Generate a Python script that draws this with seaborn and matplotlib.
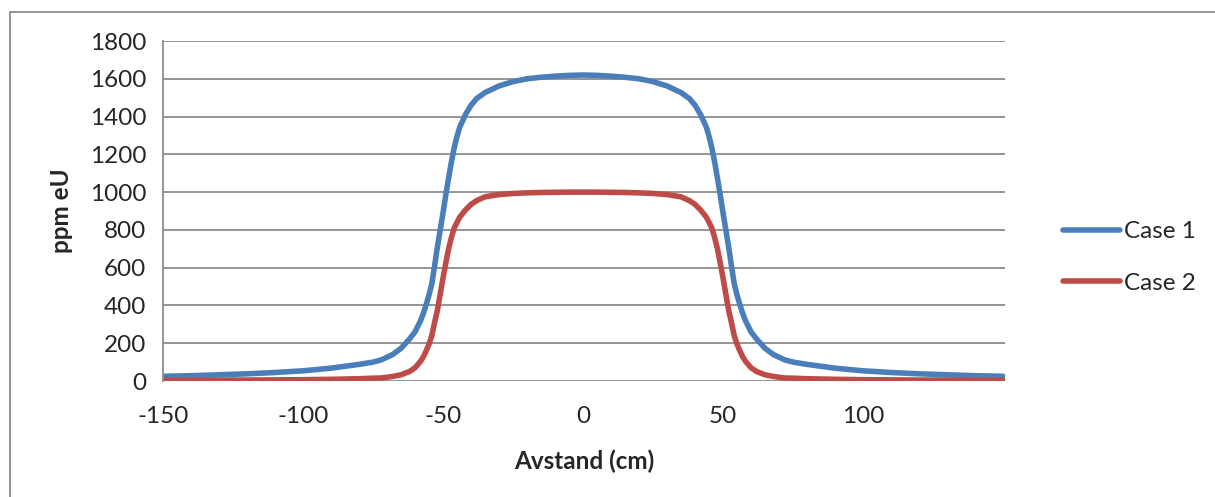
import numpy as np
import pandas as pd
import matplotlib
matplotlib.use("Agg")
import matplotlib.pyplot as plt
import seaborn as sns
from matplotlib.patches import Rectangle

# Data (left half; the profile is symmetric about 0)
x_left = [-150, -140, -130, -120, -110, -100, -90, -80, -75, -72, -68, -65, -62, -60,
          -58, -57, -56, -55, -54, -53, -52, -51, -50, -49, -48, -47, -46, -45, -44,
          -42, -40, -38, -35, -30, -25, -20, -15, -10, -5, 0]
case1_left = [25, 28, 33, 38, 45, 54, 68, 88, 100, 112, 140, 173, 222, 260,
              320, 359, 405, 455, 515, 610, 710, 800, 890, 985, 1075, 1160, 1235, 1295, 1345,
              1410, 1460, 1495, 1527, 1562, 1585, 1600, 1608, 1614, 1618, 1620]
case2_left = [4, 4, 5, 5, 6, 7, 9, 12, 15, 16, 24, 33, 50, 70,
              105, 129, 160, 195, 240, 310, 375, 460, 545, 625, 700, 760, 810, 840, 868,
              905, 935, 955, 975, 987, 993, 996, 998, 999, 1000, 1000]

x_vals = x_left + [-v for v in reversed(x_left[:-1])]
case1 = case1_left + list(reversed(case1_left[:-1]))
case2 = case2_left + list(reversed(case2_left[:-1]))

series_names = ["Case 1", "Case 2"]
colors = ["#4A7EBB", "#BE4B48"]
y_ticks = list(range(0, 1801, 200))
x_ticks = [-150, -100, -50, 0, 50, 100]

df = pd.concat([
    pd.DataFrame({"x": x_vals, "y": case1, "serie": series_names[0]}),
    pd.DataFrame({"x": x_vals, "y": case2, "serie": series_names[1]}),
])

sns.set_style("white")
plt.rcParams["font.family"] = ["Lato", "DejaVu Sans"]

FS = 17.5
fig = plt.figure(figsize=(12.15, 4.97), dpi=100)
ax = fig.add_axes([163/1215, 1-381/497, (1005-163)/1215, (381-41)/497])

sns.lineplot(data=df, x="x", y="y", hue="serie", palette=colors, linewidth=4.0,
             ax=ax, legend=True, sort=False)
for line in ax.get_lines():
    line.set_solid_joinstyle("round")
    line.set_solid_capstyle("round")

ax.set_xlim(-150, 150.7)
ax.set_ylim(0, 1800)
ax.set_yticks(y_ticks)
ax.set_xticks(x_ticks)
ax.set_xticklabels([str(t) for t in x_ticks], fontsize=FS)
ax.set_yticklabels([str(t) for t in y_ticks], fontsize=FS)
ax.tick_params(axis="both", length=0)
ax.tick_params(axis="x", pad=18)
ax.tick_params(axis="y", pad=12)
ax.yaxis.grid(True, color="#8C8C8C", linewidth=1.3)
ax.xaxis.grid(False)
ax.set_axisbelow(True)
for s in ["top", "right", "bottom"]:
    ax.spines[s].set_visible(False)
ax.spines["left"].set_color("#8C8C8C")
ax.spines["left"].set_linewidth(1.3)

ax.set_xlabel("Avstand (cm)", fontsize=FS, fontweight="bold", labelpad=16)
ax.set_ylabel("ppm eU", fontsize=FS, fontweight="bold", labelpad=12)

handles, labels = ax.get_legend_handles_labels()
for h in handles:
    h.set_linewidth(4.0)
    h.set_solid_capstyle("round")
leg = ax.legend(handles, labels, loc="center left", bbox_to_anchor=(1.069, 0.363),
                frameon=False, fontsize=FS, handlelength=2.35, handletextpad=0.17,
                labelspacing=1.25, borderaxespad=0, borderpad=0)

fig.patches.append(Rectangle((10/1215, -0.1), 2.0, 1 - 12/497 + 0.1,
                             transform=fig.transFigure, fill=False,
                             edgecolor="#8C8C8C", linewidth=1.3, clip_on=False))

fig.savefig("out.png", dpi=100)
